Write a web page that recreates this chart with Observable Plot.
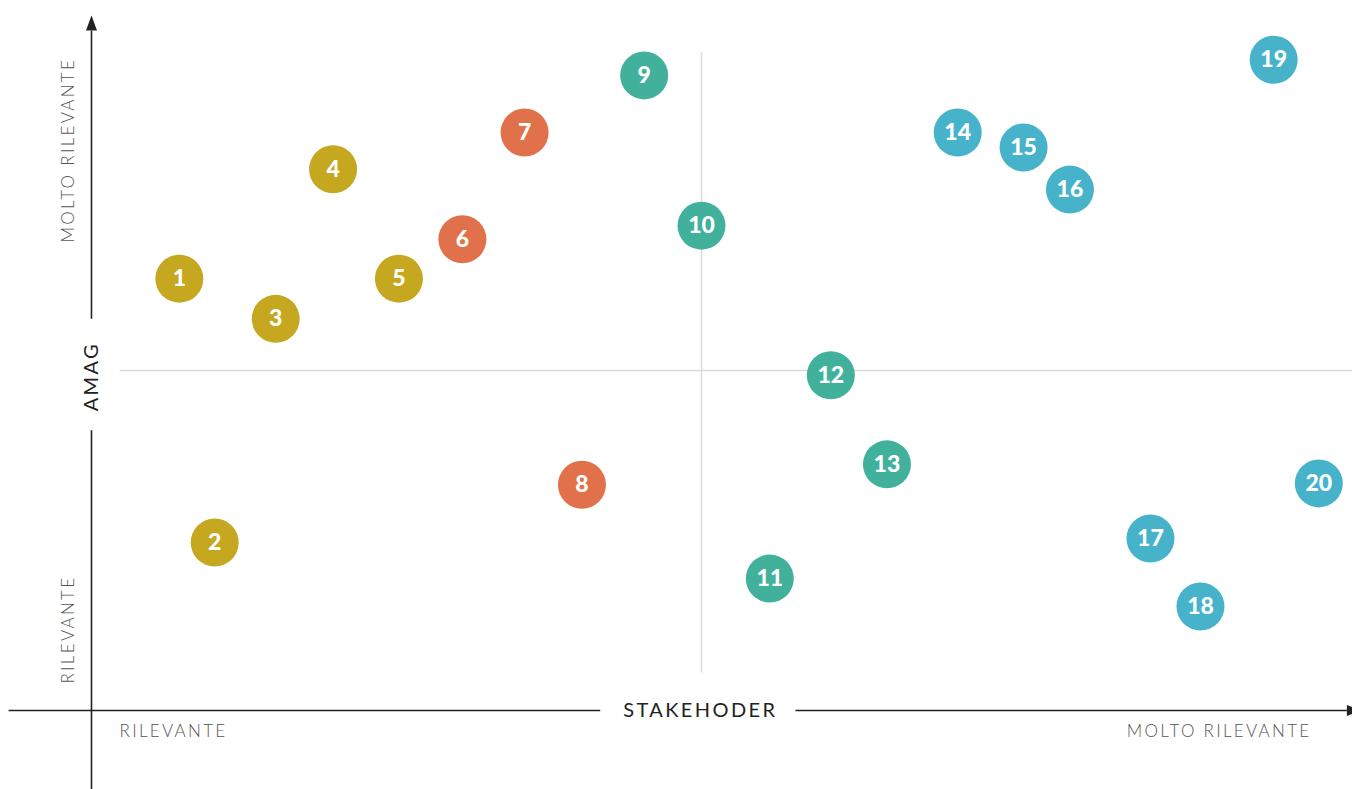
<!DOCTYPE html>
<html>
<head>
<meta charset="utf-8">
<script src="https://cdn.jsdelivr.net/npm/d3@7"></script>
<script src="https://cdn.jsdelivr.net/npm/@observablehq/plot@0.6"></script>
<style>
  html, body { margin: 0; padding: 0; background: #fff; }
  #chart svg { display: block; }
</style>
</head>
<body>
<div id="chart"></div>
<script>
// ---- data (stakeholder relevance x, AMAG relevance y; scale 0..10, midpoint 5) ----
const ids    = [1, 2, 3, 4, 5, 6, 7, 8, 9, 10, 11, 12, 13, 14, 15, 16, 17, 18, 19, 20];
const xs     = [0.72, 1.01, 1.51, 1.98, 2.52, 3.04, 3.55, 4.02, 4.53, 5.00, 5.56, 6.06, 6.52, 7.10, 7.64, 8.02, 8.68, 9.09, 9.69, 10.06];
const ys     = [6.35, 2.47, 5.76, 7.96, 6.35, 6.93, 8.50, 3.32, 9.34, 7.13, 1.94, 4.93, 3.62, 8.50, 8.28, 7.66, 2.53, 1.53, 9.57, 3.34];
const groups = ["A","A","A","A","A","B","B","B","C","C","C","C","C","D","D","D","D","D","D","D"];
const groupNames  = ["A", "B", "C", "D"];
const groupColors = ["#C5A720", "#E0714B", "#42B19B", "#47B3CB"];

const xTitle = "STAKEHODER";
const yTitle = "AMAG";
const lowLabel = "RILEVANTE";
const highLabel = "MOLTO RILEVANTE";

const points = ids.map((id, i) => ({id, x: xs[i], y: ys[i], g: groups[i]}));

// axis geometry in data units
const axisSegments = [
  {x1: 0, y1: 10.0, x2: 0, y2: 5.76},     // y axis upper
  {x1: 0, y1: 4.12, x2: 0, y2: -1.2},     // y axis lower
  {x1: -0.68, y1: 0, x2: 4.17, y2: 0},    // x axis left
  {x1: 5.77, y1: 0, x2: 10.29, y2: 0}     // x axis right
];
const midLines = [
  {x1: 5, y1: 9.68, x2: 5, y2: 0.56},
  {x1: 0.23, y1: 5, x2: 10.4, y2: 5}
];

const upArrow = {draw(ctx) { ctx.moveTo(0, -15); ctx.lineTo(5.5, 0); ctx.lineTo(-5.5, 0); ctx.closePath(); }};
const rightArrow = {draw(ctx) { ctx.moveTo(15, 0); ctx.lineTo(0, -5.5); ctx.lineTo(0, 5.5); ctx.closePath(); }};

const W = 1352, H = 789;
const chart = Plot.plot({
  width: W,
  height: H,
  margin: 0,
  x: {domain: [-91 / 122, (W - 91) / 122], axis: null},
  y: {domain: [(710 - H) / 68, 710 / 68], axis: null},
  color: {domain: groupNames, range: groupColors},
  style: {fontFamily: "Lato, 'Open Sans', sans-serif", background: "#fff"},
  marks: [
    Plot.link(midLines, {x1: "x1", y1: "y1", x2: "x2", y2: "y2", stroke: "#dcdcdc", strokeWidth: 1.5}),
    Plot.link(axisSegments, {x1: "x1", y1: "y1", x2: "x2", y2: "y2", stroke: "#222", strokeWidth: 1.6}),
    Plot.dot([{x: 0, y: 10.0}], {x: "x", y: "y", symbol: upArrow, fill: "#222", stroke: null}),
    Plot.dot([{x: 10.29, y: 0}], {x: "x", y: "y", symbol: rightArrow, fill: "#222", stroke: null}),
    // titles
    Plot.text([xTitle], {x: 4.99, y: 0, text: d => d, fontSize: 20, fill: "#222"}),
    Plot.text([yTitle], {x: 0, y: 4.91, text: d => d, fontSize: 20, fill: "#222", rotate: -90}),
    // low / high labels
    Plot.text([highLabel], {x: -0.19, y: 8.24, text: d => d, rotate: -90, fontSize: 17, fontWeight: 300, fill: "#555"}),
    Plot.text([lowLabel], {x: -0.19, y: 1.19, text: d => d, rotate: -90, fontSize: 17, fontWeight: 300, fill: "#555"}),
    Plot.text([lowLabel], {x: 0.23, y: -0.31, text: d => d, textAnchor: "start", fontSize: 17, fontWeight: 300, fill: "#555"}),
    Plot.text([highLabel], {x: 10.0, y: -0.31, text: d => d, textAnchor: "end", fontSize: 17, fontWeight: 300, fill: "#555"}),
    // bubbles
    Plot.dot(points, {x: "x", y: "y", r: 24, fill: "g", stroke: null}),
    Plot.text(points, {x: "x", y: "y", text: d => String(d.id), fill: "#fff", fontSize: 23, fontWeight: 900})
  ]
});
chart.querySelectorAll("g").forEach(g => {
  const fs = g.getAttribute("font-size");
  if (fs === "20") g.setAttribute("letter-spacing", "2.4");
  else if (fs === "17") g.setAttribute("letter-spacing", "2.3");
});
document.getElementById("chart").appendChild(chart);
</script>
</body>
</html>
